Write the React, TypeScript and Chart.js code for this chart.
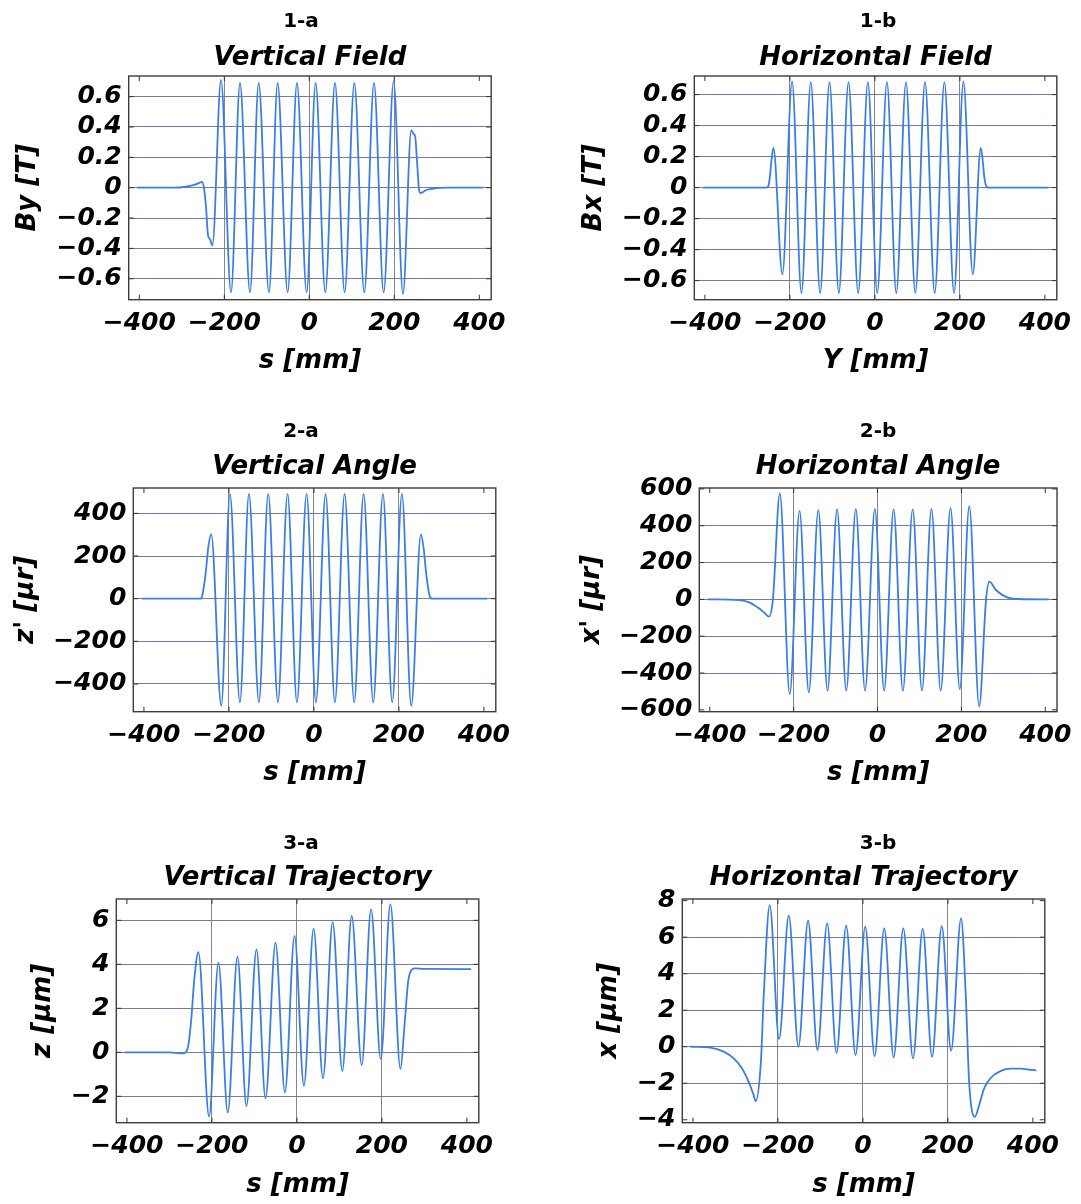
import React, { useEffect, useRef } from 'react';
import { Chart, registerables } from 'chart.js';

Chart.register(...registerables);

// ---------- shared axis data ----------
const X_TICKS = [-400, -200, 0, 200, 400];
const X_GRID = [-200, 0, 200];
const X_MIN = -425;
const X_MAX = 428;

// ---------- 1-a Vertical Field ----------
const S_1A = [-405, -330, -300, -275, -260, -252.5, -248, -243, -238.5, -233.5, -228,
  -207.8, -184.3, -163.1, -139.6, -119.2, -94.9, -74.5, -51.0, -29.0, -6.3, 14.9, 37.6, 60.4, 83.1, 105.9, 129.4, 152.2, 174.9, 198.4, 220.4,
  240, 245, 249, 254, 258.5, 262, 275, 300, 330, 408];
const BY_1A = [0, 0, 0.003, 0.015, 0.03, 0.038, 0, -0.13, -0.31, -0.34, -0.38,
  0.71, -0.69, 0.69, -0.69, 0.69, -0.69, 0.69, -0.69, 0.69, -0.69, 0.69, -0.69, 0.69, -0.69, 0.69, -0.69, 0.69, -0.69, 0.70, -0.70,
  0.38, 0.355, 0.34, 0.15, -0.02, -0.035, -0.015, -0.003, 0, 0];

// ---------- 1-b Horizontal Field ----------
const S_1B = [-404, -256, -251, -247.5, -243.6, -238.9, -217.7,
  -194.9, -172.9, -150.9, -128.9, -106.9, -84.9, -62.1, -39.3, -16.5, 5.5, 28.3, 50.3, 73.1, 95.1, 117.9, 140.7, 163.5, 186.2, 208.3,
  230.3, 249.1, 253.8, 257.8, 263.3, 268, 408];
const BX_1B = [0, 0, 0.01, 0.06, 0.17, 0.256, -0.559,
  0.685, -0.68, 0.68, -0.68, 0.68, -0.68, 0.68, -0.68, 0.68, -0.68, 0.68, -0.68, 0.68, -0.68, 0.68, -0.68, 0.68, -0.68, 0.685,
  -0.559, 0.256, 0.17, 0.06, 0.004, 0, 0];

// ---------- 2-a Vertical Angle ----------
const S_2A = [-405, -266.7, -262.7, -254.9, -248.6, -241.6, -218,
  -197.6, -174.1, -152.9, -129.4, -107.5, -84.7, -62, -40, -17.3, 4.7, 27.5, 49.4, 72.2, 94.9, 116.9, 139.6, 162.4, 184.3, 207.1,
  229, 251.8, 258, 264.3, 272.2, 278.4, 408];
const ZP_2A = [0, 0, 14, 116, 240, 303, -502,
  491, -486, 491, -486, 491, -486, 491, -486, 491, -486, 491, -486, 491, -486, 491, -486, 491, -486, 491,
  -502, 300, 240, 116, 14, 0, 0];

// ---------- 2-b Horizontal Angle ----------
const S_2B = [-405, -330, -306, -286.3, -270.6, -258.8, -249.5, -232.9, -209.4,
  -185.9, -163.9, -141.2, -119.2, -96.5, -74.5, -51.8, -29.8, -6.3, 15.7, 38.4, 60.4, 83.9, 105.9, 128.6, 150.6, 174.1, 196.1, 218.8,
  242.4, 258.8, 266.7, 282.4, 305.9, 337.3, 408];
const XP_2B = [0, -4, -16, -43, -71, -94, 0, 576, -514,
  481, -505, 485, -496, 489, -496, 492, -496, 492, -496, 489, -496, 489, -496, 492, -496, 496, -487, 507,
  -581, 0, 96, 51, 14, 2, 0];

// ---------- 3-a Vertical Trajectory ----------
const S_3A = [-405, -300, -268.8, -257, -249.1, -241.3, -231.8, -206.7,
  -184.7, -162.7, -139.9, -118.7, -95.1, -73.9, -50.3, -28.3, -5.5, 16.5, 39.3, 61.3, 84.1, 106.9, 128.9, 152.5, 174.5, 197.2, 220.0,
  243.6, 253.8, 261.7, 269.5, 277.4, 300, 410];
const Z_3A = [0, 0, -0.05, 0.18, 1.39, 3.36, 4.55, -2.92,
  4.08, -2.74, 4.35, -2.44, 4.68, -2.09, 4.98, -1.82, 5.29, -1.52, 5.62, -1.18, 5.92, -0.85, 6.2, -0.58, 6.5, -0.30, 6.73,
  -0.76, 1.39, 3.21, 3.74, 3.82, 3.79, 3.78];

// ---------- 3-b Horizontal Trajectory ----------
const S_3B = [-406, -359, -327.7, -304, -284.5, -268.8, -257, -252.3, -240, -233.4, -219.3,
  -197.2, -174.5, -151.7, -128.9, -106.9, -84.1, -62.1, -39.3, -17.3, 5.5, 27.5, 50.3, 72.3, 95.1, 117.9, 140.7, 162.7, 185.5, 207.5, 231.0,
  242, 249.9, 263.3, 273.5, 285.3, 301, 324.6, 348, 371.6, 393.7, 408];
const X_3B = [0, -0.05, -0.27, -0.64, -1.19, -1.92, -2.65, -2.98, -0.8, 2.8, 7.76,
  0.42, 7.18, 0, 6.9, -0.18, 6.76, -0.33, 6.63, -0.46, 6.58, -0.51, 6.48, -0.58, 6.48, -0.64, 6.45, -0.55, 6.61, -0.22, 7.03,
  2.83, -1.92, -3.84, -3.2, -2.28, -1.7, -1.32, -1.2, -1.2, -1.26, -1.3];

// ---------- y tick labels ----------
const Y_TICKS_FIELD = [-0.6, -0.4, -0.2, 0, 0.2, 0.4, 0.6];
const Y_TICKS_2A = [-400, -200, 0, 200, 400];
const Y_TICKS_2B = [-600, -400, -200, 0, 200, 400, 600];
const Y_GRID_2B = [-400, -200, 0, 200, 400];
const Y_TICKS_3A = [-2, 0, 2, 4, 6];
const Y_TICKS_3B = [-4, -2, 0, 2, 4, 6, 8];
const Y_GRID_3B = [-2, 0, 2, 4, 6];

// ---------- styling ----------
const LINE_COLOR = '#3a7ee4';
const HGRID = '#7878ac';
const VGRID = '#85859a';
const FAMILY = '"DejaVu Sans", "Liberation Sans", sans-serif';
const TICK_FONT = { family: FAMILY, size: 25, weight: 'bold' as const, style: 'italic' as const };
const AXIS_FONT = { family: FAMILY, size: 26, weight: 'bold' as const, style: 'italic' as const };

function fmt(v: number, dec: number): string {
  if (Math.abs(v) < 1e-9) return '0';
  return (v < 0 ? '\u2212' : '') + Math.abs(v).toFixed(dec);
}

type PanelCfg = {
  tag: string; title: string; xLabel: string; yLabel: string;
  s: number[]; v: number[];
  yTicks: number[]; yGrid: number[]; yMin: number; yMax: number; dec: number;
  left: number; top: number; width: number; height: number;
  yW: number; padTop: number; padRight: number; xH: number;
  xTitlePad: number; yTitlePad: number;
  tagX: number; tagY: number; titleY: number;
};

const PANELS: PanelCfg[] = [
  { tag: '1-a', title: 'Vertical Field', xLabel: 's [mm]', yLabel: 'By [T]', s: S_1A, v: BY_1A,
    yTicks: Y_TICKS_FIELD, yGrid: Y_TICKS_FIELD, yMin: -0.738, yMax: 0.736, dec: 1,
    left: 0, top: 0, width: 540, height: 400, yW: 128.7, padTop: 76, padRight: 48.8, xH: 100.3,
    xTitlePad: 22.7, yTitlePad: 12.4, tagX: 301, tagY: 27, titleY: 65 },
  { tag: '1-b', title: 'Horizontal Field', xLabel: 'Y [mm]', yLabel: 'Bx [T]', s: S_1B, v: BX_1B,
    yTicks: Y_TICKS_FIELD, yGrid: Y_TICKS_FIELD, yMin: -0.723, yMax: 0.72, dec: 1,
    left: 540, top: 0, width: 541, height: 400, yW: 154.3, padTop: 76, padRight: 24.2, xH: 100.3,
    xTitlePad: 22.7, yTitlePad: 38.4, tagX: 338, tagY: 27, titleY: 65 },
  { tag: '2-a', title: 'Vertical Angle', xLabel: 's [mm]', yLabel: "z' [\u03bcr]", s: S_2A, v: ZP_2A,
    yTicks: Y_TICKS_2A, yGrid: Y_TICKS_2A, yMin: -530, yMax: 519, dec: 0,
    left: 0, top: 405, width: 540, height: 405, yW: 133.3, padTop: 83, padRight: 44.2, xH: 98.3,
    xTitlePad: 21.4, yTitlePad: 10.4, tagX: 301, tagY: 32, titleY: 69 },
  { tag: '2-b', title: 'Horizontal Angle', xLabel: 's [mm]', yLabel: "x' [\u03bcr]", s: S_2B, v: XP_2B,
    yTicks: Y_TICKS_2B, yGrid: Y_GRID_2B, yMin: -610, yMax: 605, dec: 0,
    left: 540, top: 405, width: 541, height: 405, yW: 159.3, padTop: 83, padRight: 19.2, xH: 98.3,
    xTitlePad: 21.4, yTitlePad: 36.4, tagX: 338, tagY: 32, titleY: 69 },
  { tag: '3-a', title: 'Vertical Trajectory', xLabel: 's [mm]', yLabel: 'z [\u03bcm]', s: S_3A, v: Z_3A,
    yTicks: Y_TICKS_3A, yGrid: Y_TICKS_3A, yMin: -3.2, yMax: 6.97, dec: 0,
    left: 0, top: 815, width: 540, height: 389, yW: 116.3, padTop: 84, padRight: 61.2, xH: 81.3,
    xTitlePad: 3.4, yTitlePad: 27.4, tagX: 301, tagY: 34, titleY: 70 },
  { tag: '3-b', title: 'Horizontal Trajectory', xLabel: 's [mm]', yLabel: 'x [\u03bcm]', s: S_3B, v: X_3B,
    yTicks: Y_TICKS_3B, yGrid: Y_GRID_3B, yMin: -4.16, yMax: 8.09, dec: 0,
    left: 540, top: 815, width: 541, height: 389, yW: 142.3, padTop: 84, padRight: 36.2, xH: 81.3,
    xTitlePad: 3.4, yTitlePad: 53.4, tagX: 338, tagY: 34, titleY: 70 },
];

const frameTitlePlugin = {
  id: 'frameTitles',
  afterDatasetsDraw(chart: any) {
    const { ctx, chartArea: a, scales } = chart;
    ctx.save();
    ctx.strokeStyle = '#333';
    ctx.lineWidth = 1;
    const xs = scales.x, ys = scales.y;
    xs.ticks.forEach((t: any) => {
      const px = xs.getPixelForValue(t.value);
      if (px < a.left || px > a.right) return;
      ctx.beginPath();
      ctx.moveTo(px, a.bottom); ctx.lineTo(px, a.bottom - 5);
      ctx.moveTo(px, a.top); ctx.lineTo(px, a.top + 5);
      ctx.stroke();
    });
    ys.ticks.forEach((t: any) => {
      const py = ys.getPixelForValue(t.value);
      if (py < a.top || py > a.bottom) return;
      ctx.beginPath();
      ctx.moveTo(a.left, py); ctx.lineTo(a.left + 5, py);
      ctx.moveTo(a.right, py); ctx.lineTo(a.right - 5, py);
      ctx.stroke();
    });
    ctx.strokeStyle = '#3c3c3c';
    ctx.lineWidth = 1.4;
    ctx.strokeRect(a.left, a.top, a.right - a.left, a.bottom - a.top);
    ctx.restore();
  },
  afterDraw(chart: any, _args: any, opts: any) {
    const { ctx, chartArea: a } = chart;
    ctx.save();
    ctx.fillStyle = '#000';
    ctx.textAlign = 'center';
    ctx.textBaseline = 'alphabetic';
    ctx.font = `bold 20px ${FAMILY}`;
    ctx.fillText(opts.tag, opts.tagX, opts.tagY);
    ctx.font = `italic bold 26px ${FAMILY}`;
    ctx.fillText(opts.title, (a.left + a.right) / 2, opts.titleY);
    ctx.restore();
  },
};

function Panel({ cfg }: { cfg: PanelCfg }) {
  const ref = useRef<HTMLCanvasElement | null>(null);
  useEffect(() => {
    const canvas = ref.current;
    if (!canvas) return;
    const data = cfg.s.map((x, i) => ({ x, y: cfg.v[i] }));
    const chart = new Chart(canvas, {
      type: 'line',
      data: {
        datasets: [{
          data,
          borderColor: LINE_COLOR,
          borderWidth: 1.8,
          pointRadius: 0,
          fill: false,
          cubicInterpolationMode: 'monotone',
        }],
      },
      options: {
        responsive: false,
        animation: false,
        events: [],
        layout: { padding: { top: cfg.padTop, right: cfg.padRight, left: 0, bottom: 0 } },
        plugins: {
          legend: { display: false },
          tooltip: { enabled: false },
          frameTitles: { tag: cfg.tag, title: cfg.title, tagX: cfg.tagX, tagY: cfg.tagY, titleY: cfg.titleY },
        } as any,
        scales: {
          x: {
            type: 'linear',
            min: X_MIN,
            max: X_MAX,
            afterFit: (s: any) => { s.height = cfg.xH; },
            afterBuildTicks: (s: any) => { s.ticks = X_TICKS.map((value) => ({ value })); },
            grid: {
              drawTicks: false,
              lineWidth: 1,
              color: (c: any) => (c.tick && X_GRID.includes(c.tick.value) ? VGRID : 'rgba(0,0,0,0)'),
            },
            border: { display: false },
            ticks: {
              font: TICK_FONT,
              color: '#000',
              padding: 9,
              maxRotation: 0,
              autoSkip: false,
              callback: (v: any) => fmt(Number(v), 0),
            },
            title: { display: true, text: cfg.xLabel, font: AXIS_FONT, color: '#000', padding: { top: 0, bottom: cfg.xTitlePad } },
          },
          y: {
            type: 'linear',
            min: cfg.yMin,
            max: cfg.yMax,
            afterFit: (s: any) => { s.width = cfg.yW; },
            afterBuildTicks: (s: any) => { s.ticks = cfg.yTicks.map((value) => ({ value })); },
            grid: {
              drawTicks: false,
              lineWidth: 1,
              color: (c: any) => (c.tick && cfg.yGrid.some((g) => Math.abs(g - c.tick.value) < 1e-9) ? HGRID : 'rgba(0,0,0,0)'),
            },
            border: { display: false },
            ticks: {
              font: TICK_FONT,
              color: '#000',
              padding: 7,
              autoSkip: false,
              callback: (v: any) => fmt(Number(v), cfg.dec),
            },
            title: { display: true, text: cfg.yLabel, font: AXIS_FONT, color: '#000', padding: { top: cfg.yTitlePad, bottom: 0 } },
          },
        },
      } as any,
      plugins: [frameTitlePlugin as any],
    });
    return () => chart.destroy();
  }, [cfg]);
  return (
    <canvas
      ref={ref}
      width={cfg.width}
      height={cfg.height}
      style={{ position: 'absolute', left: cfg.left, top: cfg.top, width: cfg.width, height: cfg.height }}
    />
  );
}

export default function App() {
  return (
    <div style={{ position: 'absolute', left: 0, top: 0, width: 1081, height: 1204, background: '#fff', overflow: 'hidden' }}>
      {PANELS.map((p) => <Panel key={p.tag} cfg={p} />)}
    </div>
  );
}
